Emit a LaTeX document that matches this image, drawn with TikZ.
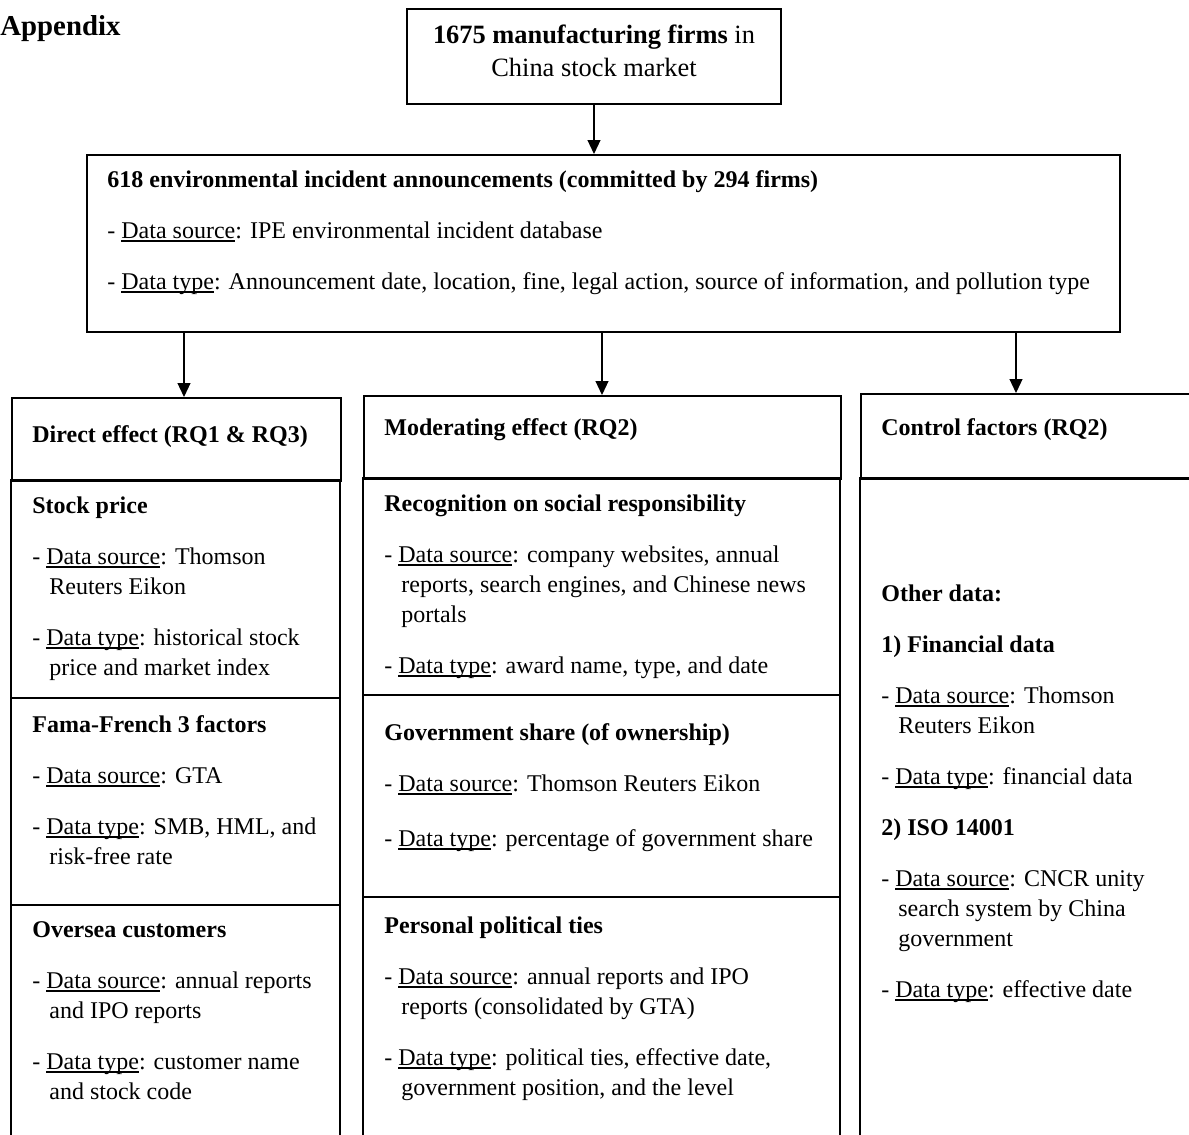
\documentclass[tikz,border=0pt]{standalone}
\usepackage{fontspec}
\setmainfont{Liberation Serif}
\usetikzlibrary{arrows.meta}
\tikzset{
  arrow/.style={line width=0.6pt, -{Triangle[length=7pt,width=6.5pt]}},
  frame/.style={draw, line width=1pt},
  txt/.style={anchor=north west, inner sep=0pt, align=left, font=\fontsize{12}{15}\selectfont},
  headtxt/.style={txt, font=\fontsize{12}{15}\selectfont\bfseries}
}
\newcommand{\undl}[1]{\setbox0\hbox{#1}\rlap{\rule[-1.7pt]{\wd0}{0.75pt}}\box0}
\newcommand{\dsrc}{\undl{Data source}}
\newcommand{\dtyp}{\undl{Data type}}
\newcommand{\ind}{\hspace*{8.5pt}}

\begin{document}
\begin{tikzpicture}[x=0.5pt, y=-0.5pt]
\useasboundingbox (0,0) rectangle (1189,1135);
\clip (0,0) rectangle (1189,1135);

\node[anchor=base west, inner sep=0pt, font=\fontsize{14.4}{17}\selectfont\bfseries] (appendix) at (0,35) {Appendix};

% sample and announcements
\node[frame, inner sep=0pt, minimum width=187pt, minimum height=47.5pt, align=center, font=\fontsize{13.2}{16.5}\selectfont] (firms) at (594,56.5)
  {\textbf{1675 manufacturing firms} in\\China stock market\rule[-6pt]{0pt}{6pt}};
\node[frame, anchor=north west, inner sep=0pt, minimum width=516.5pt, minimum height=88.5pt] (incident) at (86,154) {};
\node[txt] (incidenttxt) at (107,166) {\strut\textbf{618 environmental incident announcements (committed by 294 firms)}\\[10.5pt]
  - \dsrc: IPE environmental incident database\\[10.5pt]
  - \dtyp: Announcement date, location, fine, legal action, source of information, and pollution type};

% column heads
\node[frame, anchor=north west, inner sep=0pt, minimum width=164.5pt, minimum height=41.5pt] (direct) at (11,397) {};
\node[frame, anchor=north west, inner sep=0pt, minimum width=238.5pt, minimum height=41.5pt] (moderating) at (363,395) {};
\node[frame, anchor=north west, inner sep=0pt, minimum width=170pt, minimum height=42.5pt] (control) at (860,393) {};
\node[headtxt] (directtxt) at (32,421) {\strut Direct effect (RQ1 \& RQ3)};
\node[headtxt] (moderatingtxt) at (384,414) {\strut Moderating effect (RQ2)};
\node[headtxt] (controltxt) at (881,414) {\strut Control factors (RQ2)};

% column cells
\draw[frame] (11,480) rectangle (340,698);
\draw[frame] (11,698) rectangle (340,905);
\draw[frame] (11,905) rectangle (340,1150);
\draw[frame] (363,478) rectangle (840,695);
\draw[frame] (363,695) rectangle (840,897);
\draw[frame] (363,897) rectangle (840,1150);
\draw[frame] (860,478) rectangle (1200,1150);

% direct effect
\node[txt] (stocktxt) at (32,492) {\strut\textbf{Stock price}\\[10.5pt]
  - \dsrc: Thomson\\\ind Reuters Eikon\\[10.5pt]
  - \dtyp: historical stock\\\ind price and market index};
\node[txt] (famatxt) at (32,711) {\strut\textbf{Fama-French 3 factors}\\[10.5pt]
  - \dsrc: GTA\\[10.5pt]
  - \dtyp: SMB, HML, and\\\ind risk-free rate};
\node[txt] (overseatxt) at (32,916) {\strut\textbf{Oversea customers}\\[10.5pt]
  - \dsrc: annual reports\\\ind and IPO reports\\[10.5pt]
  - \dtyp: customer name\\\ind and stock code};

% moderating effect
\node[txt] (recogtxt) at (384,490) {\strut\textbf{Recognition on social responsibility}\\[10.5pt]
  - \dsrc: company websites, annual\\\ind reports, search engines, and Chinese news\\\ind portals\\[10.5pt]
  - \dtyp: award name, type, and date};
\node[txt] (govtxt) at (384,719) {\strut\textbf{Government share (of ownership)}\\[10.5pt]
  - \dsrc: Thomson Reuters Eikon\\[12.5pt]
  - \dtyp: percentage of government share};
\node[txt] (tiestxt) at (384,912) {\strut\textbf{Personal political ties}\\[10.5pt]
  - \dsrc: annual reports and IPO\\\ind reports (consolidated by GTA)\\[10.5pt]
  - \dtyp: political ties, effective date,\\\ind government position, and the level};

% control factors
\node[txt] (othertxt) at (881,580) {\strut\textbf{Other data:}\\[10.5pt]
  \textbf{1) Financial data}\\[10.5pt]
  - \dsrc: Thomson\\\ind Reuters Eikon\\[10.5pt]
  - \dtyp: financial data\\[10.5pt]
  \textbf{2) ISO 14001}\\[10.5pt]
  - \dsrc: CNCR unity\\\ind search system by China\\\ind government\\[10.5pt]
  - \dtyp: effective date};

% arrows
\coordinate (a1) at (184,0);
\coordinate (a2) at (602,0);
\coordinate (a3) at (1016,0);
\draw[arrow] (firms.south) -- (firms.south |- incident.north);
\draw[arrow] (incident.south -| a1) -- (direct.north -| a1);
\draw[arrow] (incident.south -| a2) -- (moderating.north -| a2);
\draw[arrow] (incident.south -| a3) -- (control.north -| a3);
\end{tikzpicture}
\end{document}
